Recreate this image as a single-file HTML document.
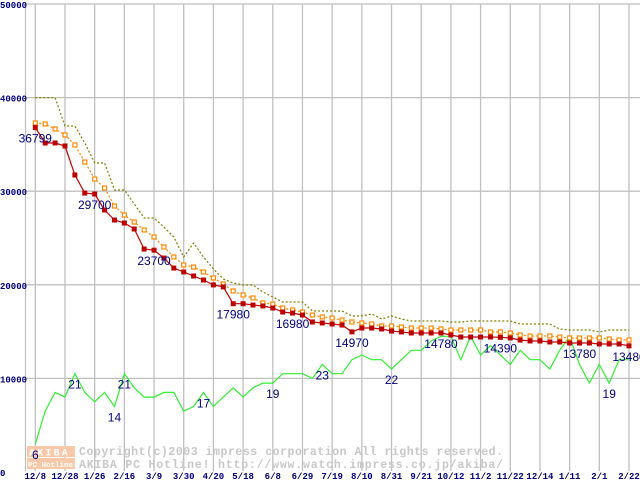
<!DOCTYPE html>
<html><head><meta charset="utf-8"><style>
html,body{margin:0;padding:0;background:#fff;}
svg{display:block;}
</style></head><body>
<svg id="chart" width="640" height="480" xmlns="http://www.w3.org/2000/svg" font-family="'Liberation Sans', sans-serif">
<g id="grid"></g>
<g id="axes"></g>
<g id="wm">
  <rect x="27" y="446" width="48" height="11" fill="#f9c8a8"/>
  <rect x="27" y="458" width="48" height="11" fill="#f9c8a8"/>
  <text x="29" y="455.5" font-size="10" font-weight="bold" fill="#fff" letter-spacing="2.2" font-family="'Liberation Mono', monospace">AKIBA</text>
  <text x="28" y="467" font-size="7.5" font-weight="bold" fill="#fff" font-family="'Liberation Mono', monospace">PC Hotline!</text>
  <text x="79" y="455" font-size="11.5" font-weight="bold" fill="#c8c8c8" font-family="'Liberation Mono', monospace" textLength="424">Copyright(c)2003 impress corporation All rights reserved.</text>
  <text x="79" y="468" font-size="11.5" font-weight="bold" fill="#c8c8c8" font-family="'Liberation Mono', monospace" textLength="424">AKIBA PC Hotline! http://www.watch.impress.co.jp/akiba/</text>
</g>
<g id="series"></g>
<g id="labels"></g>
</svg>
<script>
const xLabels = ["12/8","12/28","1/26","2/16","3/9","3/30","4/20","5/18","6/8","6/29","7/19","8/10","8/31","9/21","10/12","11/2","11/22","12/14","1/11","2/1","2/22"];
const yTicks = [0,10000,20000,30000,40000,50000];
const minPrice = [36799,35150,35150,34830,31730,29800,29700,27990,26920,26600,25960,23820,23700,22860,21790,21370,20940,20510,19990,19780,17980,17980,17840,17740,17520,17090,16980,16770,16030,15920,15810,15700,14970,15380,15380,15280,15060,14960,14850,14850,14850,14850,14640,14420,14420,14420,14420,14390,14320,14100,14000,14000,13890,13890,13780,13780,13780,13680,13680,13680,13480];
const avgPrice = [37290,37180,36650,36010,34940,33120,31300,30340,28420,27460,26710,25860,25110,24040,22970,22120,21900,21370,20730,20090,19340,18910,18590,18060,17950,17520,17310,17090,16770,16560,16450,16240,16030,15920,15810,15600,15600,15490,15380,15380,15380,15280,15170,15170,15170,15170,14960,14960,14850,14640,14530,14530,14530,14420,14320,14320,14320,14320,14210,14100,14100];
const maxPrice = [40000,40000,40000,36970,36970,35150,33010,33010,30130,30130,28630,27140,27140,26180,25110,22970,24470,22970,21690,20620,20190,19980,19980,19230,18700,18160,18160,18160,17200,17200,17200,17200,16670,16670,16880,16350,16670,16350,16130,16130,16130,16130,16030,16030,16130,16130,16130,16130,16130,15810,15810,15810,15810,15280,15170,15170,15170,14960,15170,15170,15170];
const shopCount = [6,13,17,16,21,17,15,17,14,21,18,16,16,17,17,13,14,17,14,16,18,16,18,19,19,21,21,21,20,23,21,21,24,25,24,24,22,24,26,26,28,29,29,24,29,25,27,25,23,26,24,24,22,26,29,23,19,23,19,24,24];
const priceLabelIdx = [0,6,12,20,26,32,41,47,55,60];
const countLabelIdx = [0,4,8,9,17,24,29,36,58];
const priceLabelText = ["36799","29700","23700","17980","16980","14970","14780","14390","13780","13480"];

const NS="http://www.w3.org/2000/svg";
const X0=35.3, X1=629, N=minPrice.length;
const xs=i=>X0+i*(X1-X0)/(N-1);
const ys=v=>472-v*0.00936;
const yc=c=>ys(c*500);
function mk(tag,attrs,parent){const e=document.createElementNS(NS,tag);for(const k in attrs)e.setAttribute(k,attrs[k]);parent.appendChild(e);return e;}
const grid=document.getElementById('grid'),axes=document.getElementById('axes'),ser=document.getElementById('series'),lab=document.getElementById('labels');

yTicks.forEach(t=>{
  if(t>0){const l=mk('line',{x1:25.5,x2:640,y1:ys(t),y2:ys(t),stroke:'#c0c0c0','stroke-width':1.3},grid);
  
  }
  const tx=mk('text',{x:0,y:ys(t)+4,'font-size':9,'font-weight':'bold',fill:'#000080','font-family':"'Liberation Mono', monospace"},axes);
  tx.textContent=String(t);
  
  
});
const la=mk('line',{x1:25.5,x2:25.5,y1:4,y2:471,stroke:'#c0c0c0','stroke-width':1.3},grid);


xLabels.forEach((s,k)=>{
  const x=xs(k*3);
  const l=mk('line',{x1:x,x2:x,y1:4,y2:471,stroke:'#c0c0c0','stroke-width':1.3},grid);
  
  
  const tx=mk('text',{x:x,y:479,'font-size':9,'font-weight':'bold',fill:'#000080','text-anchor':'middle','font-family':"'Liberation Mono', monospace"},axes);
  tx.textContent=s;
  
  
});

function pts(arr,f){return arr.map((v,i)=>xs(i).toFixed(1)+','+f(v).toFixed(1)).join(' ');}
const g1=mk('polyline',{points:pts(shopCount,yc),fill:'none',stroke:'#33ee33','stroke-width':1.2},ser);


const o1=mk('polyline',{points:pts(maxPrice,ys),fill:'none',stroke:'#808000','stroke-width':1.2,'stroke-dasharray':'2,2'},ser);


const a1=mk('polyline',{points:pts(avgPrice,ys),fill:'none',stroke:'#ff8800','stroke-width':1.2,'stroke-dasharray':'2,2'},ser);


avgPrice.forEach((v,i)=>{
  const r=mk('rect',{x:xs(i)-2,y:ys(v)-2,width:4,height:4,fill:'#fff',stroke:'#ff8800','stroke-width':1.2},ser);
  
  
});
const r1=mk('polyline',{points:pts(minPrice,ys),fill:'none',stroke:'#cc0000','stroke-width':1.2},ser);


minPrice.forEach((v,i)=>{
  const r=mk('rect',{x:xs(i)-2.5,y:ys(v)-2.5,width:5,height:5,fill:'#bb0000'},ser);
  
  
});
priceLabelIdx.forEach((i,k)=>{
  const t=mk('text',{x:xs(i),y:ys(minPrice[i])+15,'font-size':12,fill:'#000080','text-anchor':'middle'},lab);
  t.textContent=priceLabelText[k];
  
  
});
countLabelIdx.forEach(i=>{
  const t=mk('text',{x:xs(i),y:yc(shopCount[i])+15,'font-size':12,fill:'#000080','text-anchor':'middle'},lab);
  t.textContent=String(shopCount[i]);
  
  
});
</script>
</body></html>
